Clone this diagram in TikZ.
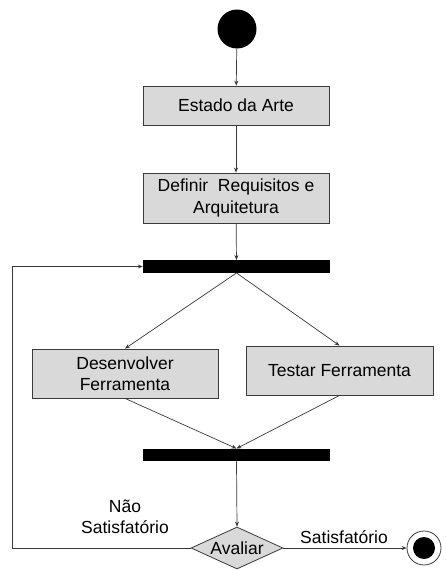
\documentclass[tikz,border=0pt]{standalone}
\usepackage{fontspec}
\setmainfont{Liberation Sans}
\usetikzlibrary{shapes.geometric,arrows.meta}
\definecolor{boxfill}{HTML}{D9D9D9}
\definecolor{linec}{HTML}{3A3A3A}
\begin{document}
\begin{tikzpicture}[x=1pt,y=-1pt,
  font=\fontsize{17.5}{21.5}\selectfont,
  act/.style={draw=linec,line width=0.8pt,fill=boxfill,rectangle,minimum width=186pt,inner sep=2pt,align=center},
  bar/.style={fill=black,draw=none,rectangle,minimum width=187pt,minimum height=12.5pt,inner sep=0pt},
  conn/.style={draw=linec,line width=0.7pt,-{Stealth[length=5pt,width=4pt]}}]
\useasboundingbox (0,0) rectangle (445,570);
\clip (0,0) rectangle (445,570);
\fill[white] (0,0) rectangle (445,570);
\node[circle,fill=black,minimum size=39pt,inner sep=0pt] (start) at (237,29) {};
\node[act,minimum height=39pt] (estado) at (236,105.5) {Estado da Arte};
\node[act,minimum height=50pt] (definir) at (236,198) {Definir\ \ Requisitos e\\Arquitetura};
\node[bar] (bar1) at (236.5,266.5) {};
\node[act,minimum height=49pt] (des) at (125,373.5) {Desenvolver\\Ferramenta};
\node[act,minimum height=49pt,minimum width=187pt] (tes) at (339.5,370.5) {Testar Ferramenta};
\node[bar] (bar2) at (236.5,455) {};
\node[diamond,draw=linec,line width=0.8pt,fill=boxfill,inner sep=0pt,minimum width=92pt,minimum height=42pt,aspect=2.2] (aval) at (237,548) {Avaliar};
\node[circle,draw=linec,line width=0.8pt,fill=white,minimum size=34pt,inner sep=0pt] (endo) at (424,548) {};
\node[circle,fill=black,minimum size=22pt,inner sep=0pt] (endi) at (424,548) {};
\coordinate (loop) at (12,548);
\node[align=center] (nao) at (125,517) {Não\\Satisfatório};
\node (sat) at (344,537) {Satisfatório};
\draw[conn] (start) -- (estado);
\draw[conn] (estado) -- (definir);
\draw[conn] (definir) -- (bar1);
\draw[conn] (bar1.south) -- (des.north);
\draw[conn] (bar1.south) -- (tes.north);
\draw[conn] (des.south) -- (bar2.north);
\draw[conn] (tes.south) -- (bar2.north);
\draw[conn] (bar2.south) -- (aval.north);
\draw[conn] (aval.east) -- (endo.west);
\draw[conn] (aval.west) -- (loop) |- (bar1.west);
\end{tikzpicture}
\end{document}
